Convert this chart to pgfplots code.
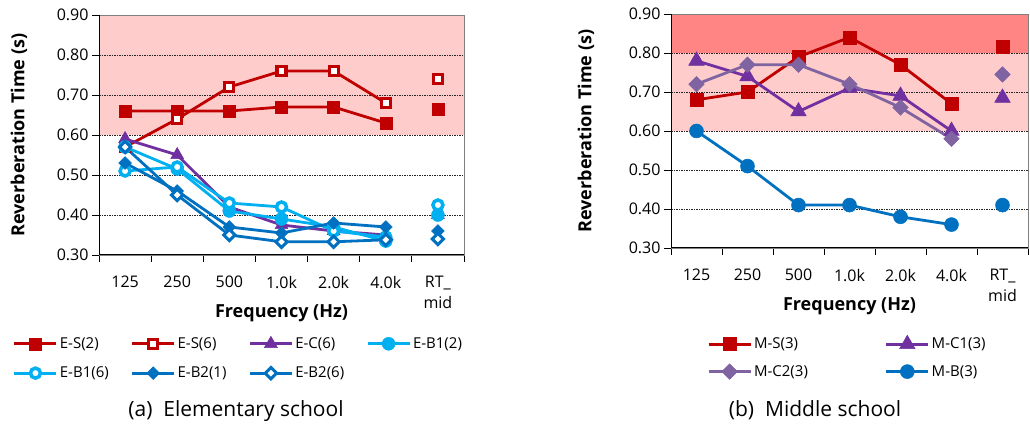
\documentclass[border=0pt]{standalone}
\usepackage{fontspec}
\setmainfont{Open Sans}
\usepackage{pgfplots}
\pgfplotsset{compat=1.18}
\definecolor{cRed}{HTML}{C00000}
\definecolor{cPur}{HTML}{7030A0}
\definecolor{cLB}{HTML}{00B0F0}
\definecolor{cDB}{HTML}{0070C0}
\definecolor{cLav}{HTML}{8064A2}
\definecolor{pinkL}{HTML}{FFCCCC}
\definecolor{pinkD}{HTML}{FF8585}
\pgfplotsset{
  rtaxis/.style={
    scale only axis, set layers, clip=false,
    xmin=-0.5, xmax=6.5, ymin=0.3, ymax=0.9,
    unbounded coords=jump,
    ytick={0.3,0.4,0.5,0.6,0.7,0.8,0.9},
    /pgf/number format/fixed, /pgf/number format/fixed zerofill,
    /pgf/number format/precision=2, /pgf/number format/assume math mode=true,
    tick label style={font=\fontsize{16}{21}\selectfont},
    xtick={0,...,6}, xticklabels={125,250,500,1.0k,2.0k,4.0k,{RT\_\\mid}},
    xticklabel style={align=center, anchor=north, inner sep=0pt, yshift=-14pt},
    major x tick style={draw=none},
    minor xtick={-0.5,0.5,1.5,2.5,3.5,4.5,5.5,6.5},
    xtick pos=bottom, ytick pos=left, tick align=outside,
    major tick length=7pt, minor tick length=7pt,
    tick style={black, line width=0.8pt},
    ymajorgrids, major grid style={black!85, line width=0.7pt, dash pattern=on 1.5pt off 1pt},
    axis line style={gray, line width=0.8pt},
    after end axis/.code={\draw[black,line width=1pt] (rel axis cs:0,1) -- (rel axis cs:0,0) -- (rel axis cs:1,0);},
    label style={font=\bfseries\fontsize{18}{22}\selectfont},
    legend cell align=left,
    legend image code/.code={\draw[mark repeat=2,mark phase=2] plot coordinates {(0pt,0pt) (21pt,0pt) (42pt,0pt)};},
  }
}
\begin{document}
\begin{tikzpicture}[x=1pt,y=1pt]
% ---------- (a) Elementary school ----------
\begin{axis}[rtaxis, at={(99pt,170pt)}, anchor=south west, width=365pt, height=240pt,
  xlabel={Frequency (Hz)}, ylabel={Reverberation Time (s)},
  xlabel style={at={(rel axis cs:0.5,-0.243)}, anchor=center},
  ylabel style={at={(rel axis cs:-0.219,0.5)}, anchor=center},
  legend style={at={(-0.236,-0.335)}, anchor=north west, draw=none, fill=none, inner sep=0pt,
    font=\fontsize{15}{18}\selectfont, legend columns=4,
    /tikz/every even column/.append style={column sep=20pt}, row sep=13pt},
]
\begin{pgfonlayer}{axis background}
\fill[pinkL] (axis cs:-0.5,0.6) rectangle (axis cs:6.5,0.9);
\end{pgfonlayer}
\addplot[cRed, line width=2.8pt, mark=square*, mark size=6pt, mark options={solid, line width=0.5pt, fill=cRed}]
  coordinates {(0,0.66)(1,0.66)(2,0.66)(3,0.67)(4,0.67)(5,0.63)(5.5,nan)(6,0.665)};
\addlegendentry{E-S(2)}
\addplot[cRed, line width=2.8pt, mark=square*, mark size=4.5pt, mark options={solid, line width=3.2pt, fill=white}]
  coordinates {(0,0.57)(1,0.64)(2,0.72)(3,0.76)(4,0.76)(5,0.68)(5.5,nan)(6,0.74)};
\addlegendentry{E-S(6)}
\addplot[cPur, line width=2.8pt, mark=triangle*, mark size=7.5pt, mark options={solid, line width=0.5pt, fill=cPur}]
  coordinates {(0,0.59)(1,0.55)(2,0.42)(3,0.375)(4,0.36)(5,0.35)(5.5,nan)(6,0.40)};
\addlegendentry{E-C(6)}
\addplot[cLB, line width=2.8pt, mark=*, mark size=6.5pt, mark options={solid, line width=0.5pt, fill=cLB}]
  coordinates {(0,0.57)(1,0.515)(2,0.41)(3,0.39)(4,0.37)(5,0.335)(5.5,nan)(6,0.40)};
\addlegendentry{E-B1(2)}
\addplot[cLB, line width=2.8pt, mark=*, mark size=5pt, mark options={solid, line width=3.5pt, fill=white}]
  coordinates {(0,0.51)(1,0.52)(2,0.43)(3,0.42)(4,0.36)(5,0.345)(5.5,nan)(6,0.425)};
\addlegendentry{E-B1(6)}
\addplot[cDB, line width=2.8pt, mark=square*, mark size=4.5pt, mark options={solid, rotate=45, line width=0.5pt, fill=cDB}]
  coordinates {(0,0.53)(1,0.46)(2,0.37)(3,0.355)(4,0.38)(5,0.37)(5.5,nan)(6,0.36)};
\addlegendentry{E-B2(1)}
\addplot[cDB, line width=2.8pt, mark=square*, mark size=4pt, mark options={solid, rotate=45, line width=3pt, fill=white}]
  coordinates {(0,0.57)(1,0.45)(2,0.35)(3,0.333)(4,0.333)(5,0.338)(5.5,nan)(6,0.34)};
\addlegendentry{E-B2(6)}
\end{axis}
% ---------- (b) Middle school ----------
\begin{axis}[rtaxis, at={(671pt,177pt)}, anchor=south west, width=357pt, height=234pt,
  xlabel={Frequency (Hz)}, ylabel={Reverberation Time (s)},
  xlabel style={at={(rel axis cs:0.5,-0.25)}, anchor=center},
  ylabel style={at={(rel axis cs:-0.238,0.5)}, anchor=center},
  legend style={at={(0.101,-0.372)}, anchor=north west, draw=none, fill=none, inner sep=0pt,
    font=\fontsize{15}{18}\selectfont, legend columns=2,
    /tikz/every even column/.append style={column sep=75pt}, row sep=11pt},
]
\begin{pgfonlayer}{axis background}
\fill[pinkL] (axis cs:-0.5,0.6) rectangle (axis cs:6.5,0.8);
\fill[pinkD] (axis cs:-0.5,0.8) rectangle (axis cs:6.5,0.9);
\end{pgfonlayer}
\addplot[cRed, line width=2.8pt, mark=square*, mark size=6.5pt, mark options={solid, line width=0.5pt, fill=cRed}]
  coordinates {(0,0.68)(1,0.70)(2,0.79)(3,0.84)(4,0.77)(5,0.67)(5.5,nan)(6,0.815)};
\addlegendentry{M-S(3)}
\addplot[cPur, line width=2.8pt, mark=triangle*, mark size=9pt, mark options={solid, line width=0.5pt, fill=cPur}]
  coordinates {(0,0.78)(1,0.74)(2,0.65)(3,0.71)(4,0.69)(5,0.60)(5.5,nan)(6,0.685)};
\addlegendentry{M-C1(3)}
\addplot[cLav, line width=2.8pt, mark=square*, mark size=5.5pt, mark options={solid, rotate=45, line width=0.5pt, fill=cLav}]
  coordinates {(0,0.72)(1,0.77)(2,0.77)(3,0.72)(4,0.66)(5,0.58)(5.5,nan)(6,0.745)};
\addlegendentry{M-C2(3)}
\addplot[cDB, line width=2.8pt, mark=*, mark size=7pt, mark options={solid, line width=0.5pt, fill=cDB}]
  coordinates {(0,0.60)(1,0.51)(2,0.41)(3,0.41)(4,0.38)(5,0.36)(5.5,nan)(6,0.41)};
\addlegendentry{M-B(3)}
\end{axis}
\node[font=\fontsize{21}{25}\selectfont, anchor=base] at (236,8) {(a)\ \ Elementary school};
\node[font=\fontsize{21}{25}\selectfont, anchor=base] at (815,8) {(b)\ \ Middle school};
\pgfresetboundingbox
\useasboundingbox (0,0) rectangle (1030,425);
\end{tikzpicture}
\end{document}
